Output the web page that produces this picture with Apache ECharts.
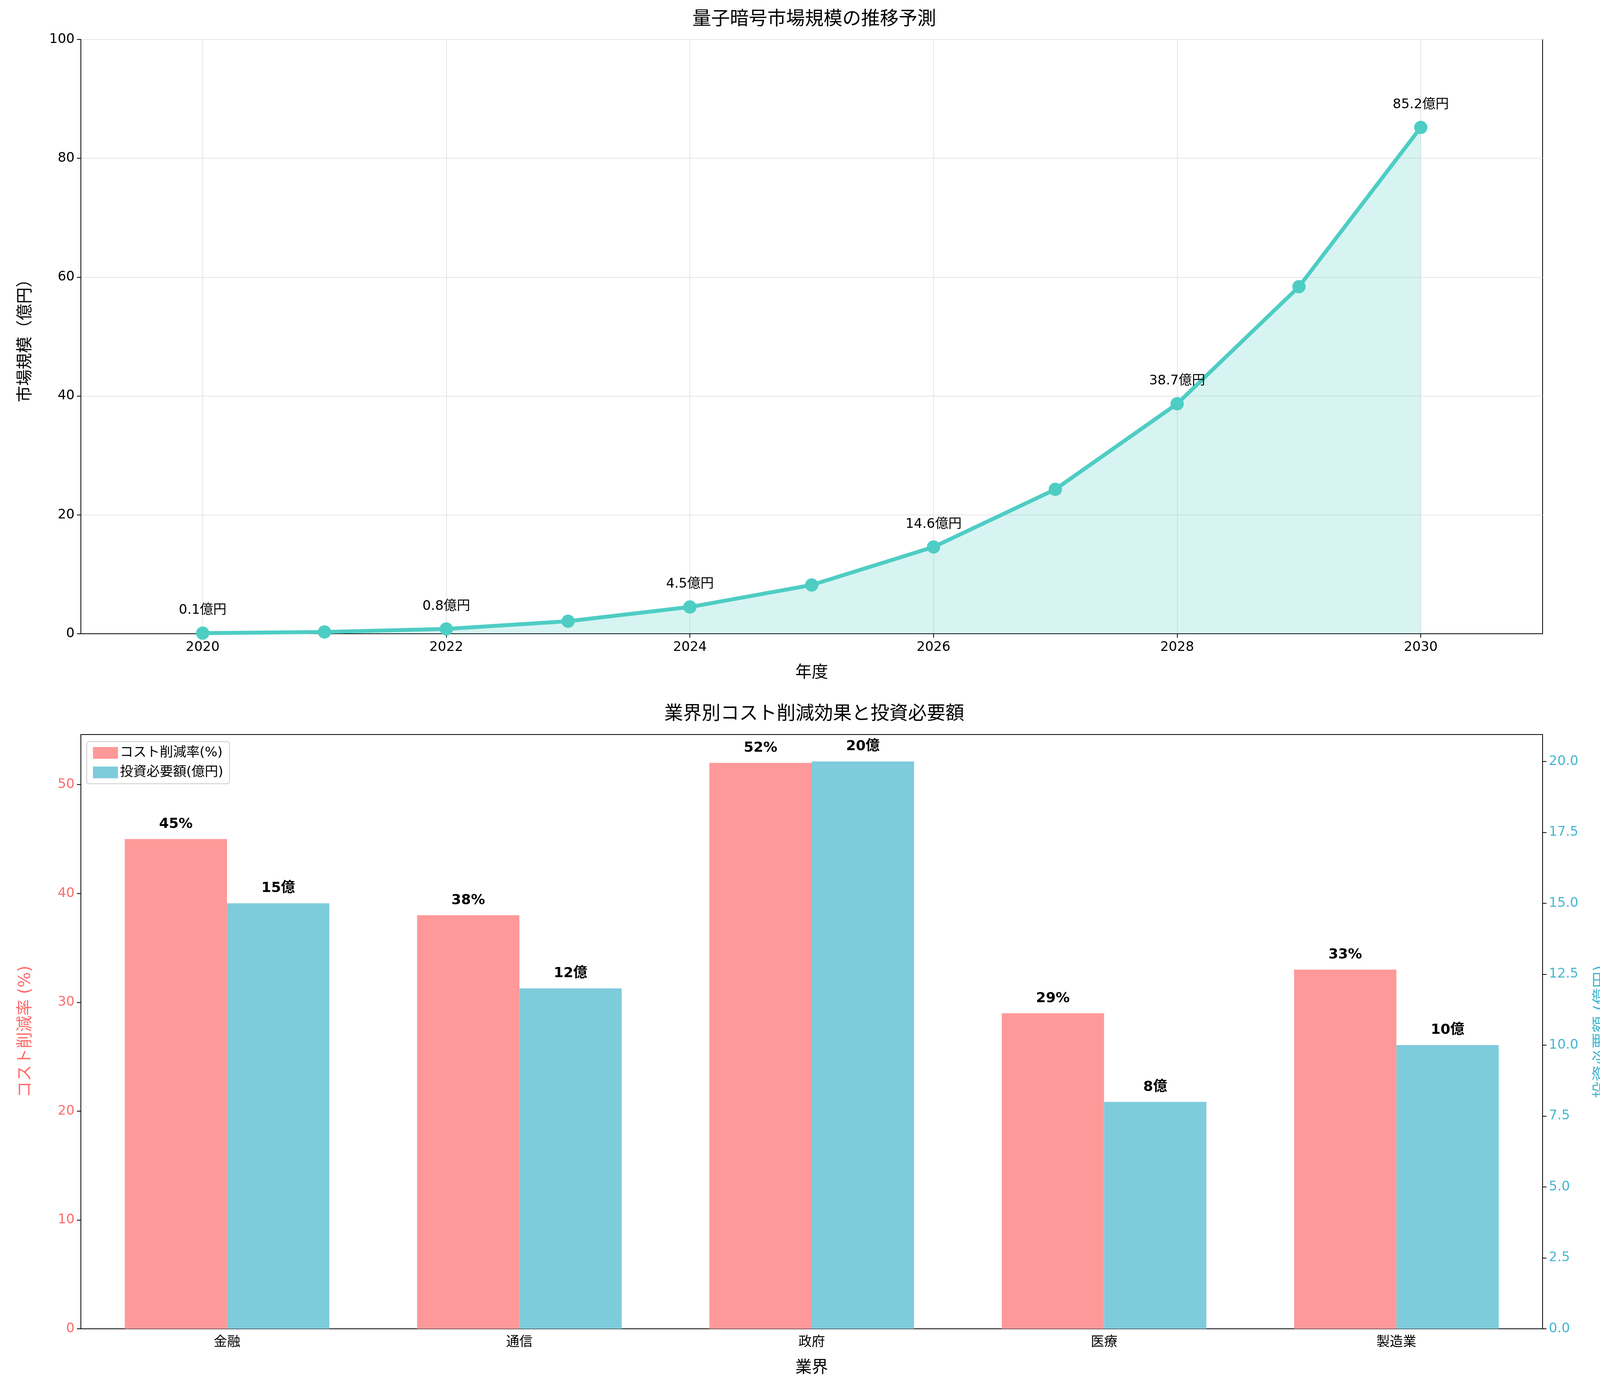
<!DOCTYPE html>
<html><head><meta charset="utf-8">
<script src="https://cdn.jsdelivr.net/npm/echarts@6/dist/echarts.min.js"></script>
<style>html,body{margin:0;padding:0;background:#fff}#c{width:4169px;height:3573px}</style>
</head><body><div id="c"></div>
<script>
const years = ['2019','2020','2021','2022','2023','2024','2025','2026','2027','2028','2029','2030','2031'];
const market = [null,0.1,0.3,0.8,2.1,4.5,8.2,14.6,24.3,38.7,58.4,85.2,null];
const industries = ['金融','通信','政府','医療','製造業'];
const costCut = [45,38,52,29,33];
const invest = [15,12,20,8,10];

const F = 'DejaVu Sans, "Noto Sans CJK JP", sans-serif';
const chart = echarts.init(document.getElementById('c'));
const ax = {color:'#000', fontSize:34, fontFamily:F};
const showYear = (i) => i % 2 === 1;
chart.setOption({
  animation:false,
  textStyle:{fontFamily:F},
  title:[
    {text:'量子暗号市場規模の推移予測', left:'center', top:22, textStyle:{fontSize:48,fontWeight:'normal',color:'#000',fontFamily:F}},
    {text:'業界別コスト削減効果と投資必要額', left:'center', top:1800, textStyle:{fontSize:48,fontWeight:'normal',color:'#000',fontFamily:F}}
  ],
  legend:{data:['コスト削減率(%)','投資必要額(億円)'], orient:'vertical', left:222, top:1898, icon:'rect', itemWidth:64, itemHeight:30, itemGap:16,
    textStyle:{fontSize:34,color:'#000'}, backgroundColor:'#fff', borderColor:'#ccc', borderWidth:2, borderRadius:6, padding:[12,16]},
  grid:[
    {left:207, right:220, top:101, height:1521, show:true, borderColor:'#000', borderWidth:2},
    {left:207, right:220, top:1880, height:1521, show:true, borderColor:'#000', borderWidth:2}
  ],
  xAxis:[
    {type:'category', gridIndex:0, data:years, boundaryGap:false, name:'年度', nameLocation:'middle', nameGap:80, nameTextStyle:{fontSize:42,color:'#000'},
      axisLine:{lineStyle:{color:'#000',width:2}}, axisTick:{length:10,interval:showYear,lineStyle:{color:'#000',width:2}},
      axisLabel:Object.assign({interval:showYear, margin:18},ax),
      splitLine:{show:true, interval:showYear, lineStyle:{color:'#e5e5e5',width:2}}},
    {type:'category', gridIndex:1, data:industries, name:'業界', nameLocation:'middle', nameGap:80, nameTextStyle:{fontSize:42,color:'#000'},
      axisLine:{lineStyle:{color:'#000',width:2}}, axisTick:{alignWithLabel:true,length:10,lineStyle:{color:'#000',width:2}},
      axisLabel:Object.assign({margin:18},ax)}
  ],
  yAxis:[
    {type:'value', gridIndex:0, min:0, max:100, interval:20, name:'市場規模（億円）', nameLocation:'middle', nameGap:120, nameTextStyle:{fontSize:42,color:'#000'},
      axisLine:{show:true,lineStyle:{color:'#000',width:2}}, axisTick:{show:true,length:10,lineStyle:{color:'#000',width:2}}, axisLabel:Object.assign({margin:16},ax),
      splitLine:{lineStyle:{color:'#e5e5e5',width:2}}},
    {type:'value', gridIndex:1, min:0, max:54.6, interval:10, name:'コスト削減率 (%)', nameLocation:'middle', nameGap:120, nameTextStyle:{fontSize:42,color:'#FF6B6B'},
      axisLine:{show:true,lineStyle:{color:'#000',width:2}}, axisTick:{show:true,length:10,lineStyle:{color:'#000',width:2}},
      axisLabel:{color:'#FF6B6B',fontSize:34,margin:16,showMaxLabel:false}, splitLine:{show:false}},
    {type:'value', gridIndex:1, min:0, max:20.95, interval:2.5, position:'right', name:'投資必要額 (億円)', nameLocation:'middle', nameGap:130, nameTextStyle:{fontSize:42,color:'#45B7D1'},
      axisLine:{show:true,lineStyle:{color:'#000',width:2}}, axisTick:{show:true,length:10,lineStyle:{color:'#000',width:2}},
      axisLabel:{color:'#45B7D1',fontSize:34,margin:16,showMaxLabel:false,formatter:v=>v.toFixed(1)}, splitLine:{show:false}}
  ],
  series:[
    {type:'line', xAxisIndex:0, yAxisIndex:0, data:market, symbol:'circle', symbolSize:34, connectNulls:false,
      lineStyle:{color:'#4ECDC4',width:10}, itemStyle:{color:'#4ECDC4'}, areaStyle:{color:'rgba(78,205,196,0.32)'},
      label:{show:true, position:'top', distance:24, fontSize:34, color:'#000',
        formatter:p=> (p.dataIndex%2===1 && p.value!=null) ? p.value+'億円' : ''}},
    {type:'bar', name:'コスト削減率(%)', xAxisIndex:1, yAxisIndex:1, data:costCut, barWidth:'35%', barGap:'0%',
      itemStyle:{color:'#FF9999'}, label:{show:true,position:'top',distance:20,fontSize:36,fontWeight:'bold',color:'#000',formatter:'{c}%'}},
    {type:'bar', name:'投資必要額(億円)', xAxisIndex:1, yAxisIndex:2, data:invest, barWidth:'35%', barGap:'0%',
      itemStyle:{color:'#7ECBDC'}, label:{show:true,position:'top',distance:20,fontSize:36,fontWeight:'bold',color:'#000',formatter:'{c}億'}}
  ]
});
</script></body></html>
